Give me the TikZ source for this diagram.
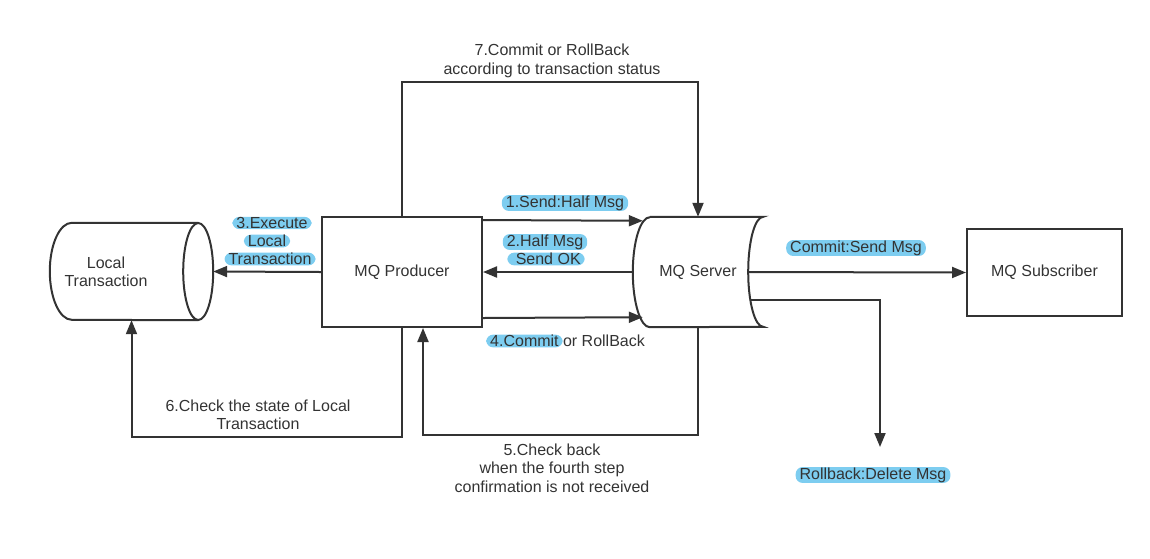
\documentclass[tikz,border=0pt]{standalone}
\usepackage{fontspec}
\setmainfont{Liberation Sans}
\usepackage[x11names]{xcolor}
\usetikzlibrary{positioning, arrows.meta}
\definecolor{linegray}{RGB}{51,51,51}
\definecolor{hlblue}{RGB}{125,205,240}
\begin{document}
\begin{tikzpicture}[x=1pt, y=-1pt,
    every node/.style={font=\fontsize{16}{18.5}\selectfont, text=linegray},
    line/.style={draw=linegray, line width=2pt},
    arr/.style={line, -{Triangle[length=14pt, width=11pt]}},
    box/.style={line, rectangle, minimum width=160pt, minimum height=110pt},
    hl/.style={fill=hlblue, rounded corners=7pt, inner xsep=4pt, inner ysep=0.5pt}]
       \useasboundingbox (0,0) rectangle (1150,558);
       % nodes
       \node[minimum width=163pt, minimum height=97pt] (loc) at (131.5,271.5) {};
       \draw[line] ([xshift=-15pt]loc.north east) -- ([xshift=22pt]loc.north west)
          arc[start angle=90, end angle=270, x radius=22pt, y radius=48.5pt]
          -- ([xshift=-15pt]loc.south east);
       \draw[line] ([xshift=-15pt]loc.east) ellipse[x radius=15pt, y radius=48.5pt];
       \node[align=center] (loctext) at (106,272) {Local\\Transaction};
       \node[box] (prod) at (402,272) {MQ Producer};
       \node[minimum width=130pt, minimum height=110pt] (srv) at (698,272) {MQ Server};
       \draw[line] ([xshift=17pt]srv.north west) -- (srv.north east)
          arc[start angle=90, end angle=270, x radius=15pt, y radius=55pt]
          -- ([xshift=17pt]srv.south west)
          arc[start angle=270, end angle=90, x radius=17pt, y radius=55pt];
       \node[box, minimum width=155pt, minimum height=87pt] (sub) at (1044.5,272.5) {MQ Subscriber};
       \coordinate (del) at (880,447);
       % connectors
       \draw[arr] ([yshift=-4pt]prod.north east) -- ([xshift=10pt, yshift=-4pt]srv.north west);
       \draw[arr] (srv.west) -- (prod.east);
       \draw[arr] ([yshift=10pt]prod.south east) -- ([xshift=10pt, yshift=10pt]srv.south west);
       \draw[arr] (prod.west) -- (loc.east);
       \draw[arr] (prod.north) -- ++(0,-134) -| (srv.north);
       \draw[arr] (prod.south) -- ++(0,109) -| (loc.south);
       \draw[arr] (srv.south) -- ++(0,108) -| ([xshift=21pt]prod.south);
       \draw[arr] ([xshift=-14pt]srv.east) -- (sub.west);
       \draw[arr] ([xshift=-13pt, yshift=-28pt]srv.east) -| (del);
       % labels
       \node[hl] (lsend) at (565,203) {1.Send:Half Msg};
       \node[hl] (lok1) at (545,242) {2.Half Msg};
       \node[hl] (lok2) at (546,259) {\ Send OK\ };
       \node[hl] (lex1) at (272,223) {3.Execute};
       \node[hl] (lex2) at (267,241) {Local};
       \node[hl] (lex3) at (270,259) {Transaction};
       \node[hl, anchor=west] (lcm) at (486,341) {4.Commit\ };
       \node[anchor=base west, inner xsep=0pt] (lrb4) at (lcm.base east) {or RollBack};
       \node[hl] (lcs) at (856,248) {Commit:Send Msg};
       \node[hl] (lrb) at (873,475) {Rollback:Delete Msg};
       \node[align=center] (lst) at (552,61) {7.Commit or RollBack\\according to transaction status};
       \node[align=center] (lchk) at (258,415) {6.Check the state of Local\\Transaction};
       \node[align=center] (lback) at (552,468) {5.Check back\\when the fourth step\\confirmation is not received};
\end{tikzpicture}
\end{document}
